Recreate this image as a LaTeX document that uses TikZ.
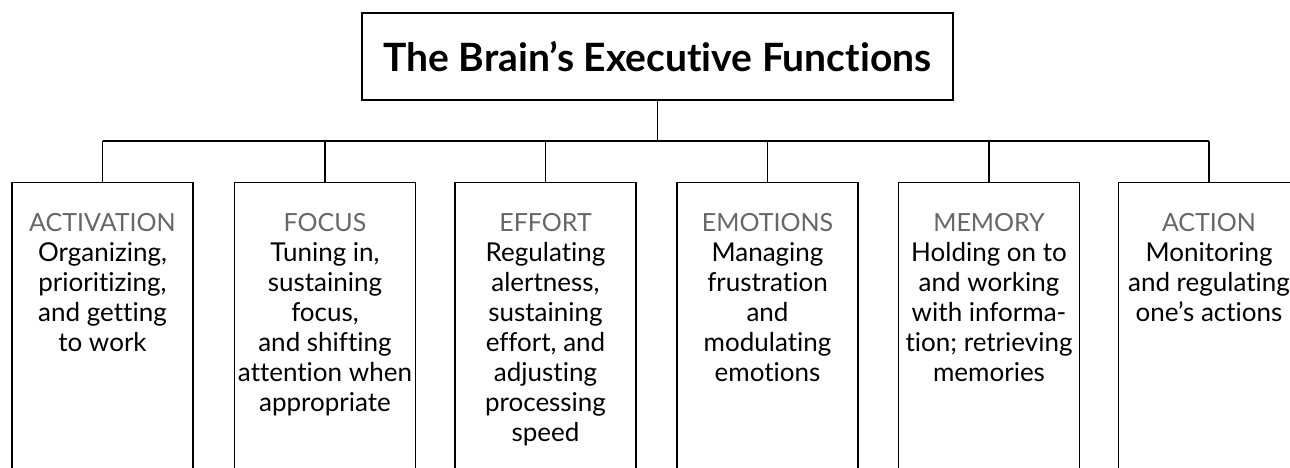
\documentclass[tikz,border=0pt]{standalone}
\usepackage{fontspec}
\setmainfont{Lato}[Ligatures={NoCommon}]
\usetikzlibrary{positioning}
\newcommand{\fnhead}[1]{{\color{black!60}\fontsize{12.5}{15}\selectfont #1}}
\tikzset{
  titlebox/.style={draw, line width=0.7pt, minimum width=295.5pt, minimum height=43.5pt,
    font=\bfseries\fontsize{19.5}{23}\selectfont},
  fnbox/.style={draw, line width=0.7pt, minimum width=90.5pt, minimum height=150pt, anchor=north},
  fntext/.style={align=center, inner sep=0pt, font=\fontsize{13}{15}\selectfont},
  bus/.style={line width=0.7pt}
}
\begin{document}
\begin{tikzpicture}[x=0.5pt, y=-0.5pt]
    \useasboundingbox (0,0) rectangle (1290,467);

    \node[titlebox] (title) at (657.5,56.5) {The Brain’s Executive Functions};

    \node[fnbox] (act) at (102.5,182) {};
    \node[fnbox] (foc) at (325,182) {};
    \node[fnbox] (eff) at (545.5,182) {};
    \node[fnbox] (emo) at (767.5,182) {};
    \node[fnbox] (mem) at (989,182) {};
    \node[fnbox] (acn) at (1209,182) {};

    \node[fntext, below=15.5pt of act.north] (acttxt) {\fnhead{ACTIVATION}\\Organizing,\\prioritizing,\\and getting\\to work};
    \node[fntext, below=15.5pt of foc.north] (foctxt) {\fnhead{FOCUS}\\Tuning in,\\sustaining\\focus,\\and shifting\\attention when\\appropriate};
    \node[fntext, below=15.5pt of eff.north] (efftxt) {\fnhead{EFFORT}\\Regulating\\alertness,\\sustaining\\effort, and\\adjusting\\processing\\speed};
    \node[fntext, below=15.5pt of emo.north] (emotxt) {\fnhead{EMOTIONS}\\Managing\\frustration\\and\\modulating\\emotions};
    \node[fntext, below=15.5pt of mem.north] (memtxt) {\fnhead{MEMORY}\\Holding on to\\and working\\with informa-\\tion; retrieving\\memories};
    \node[fntext, below=15.5pt of acn.north] (acntxt) {\fnhead{ACTION}\\Monitoring\\and regulating\\one’s actions};

    \coordinate (busL) at (102.5,141);
    \coordinate (busR) at (1209,141);
    \draw[bus] (busL) -- (busR);
    \draw[bus] (title.south) -- (title.south |- busL);
    \foreach \b in {act,foc,eff,emo,mem,acn}
        \draw[bus] (\b.north) -- (\b.north |- busL);
\end{tikzpicture}
\end{document}
